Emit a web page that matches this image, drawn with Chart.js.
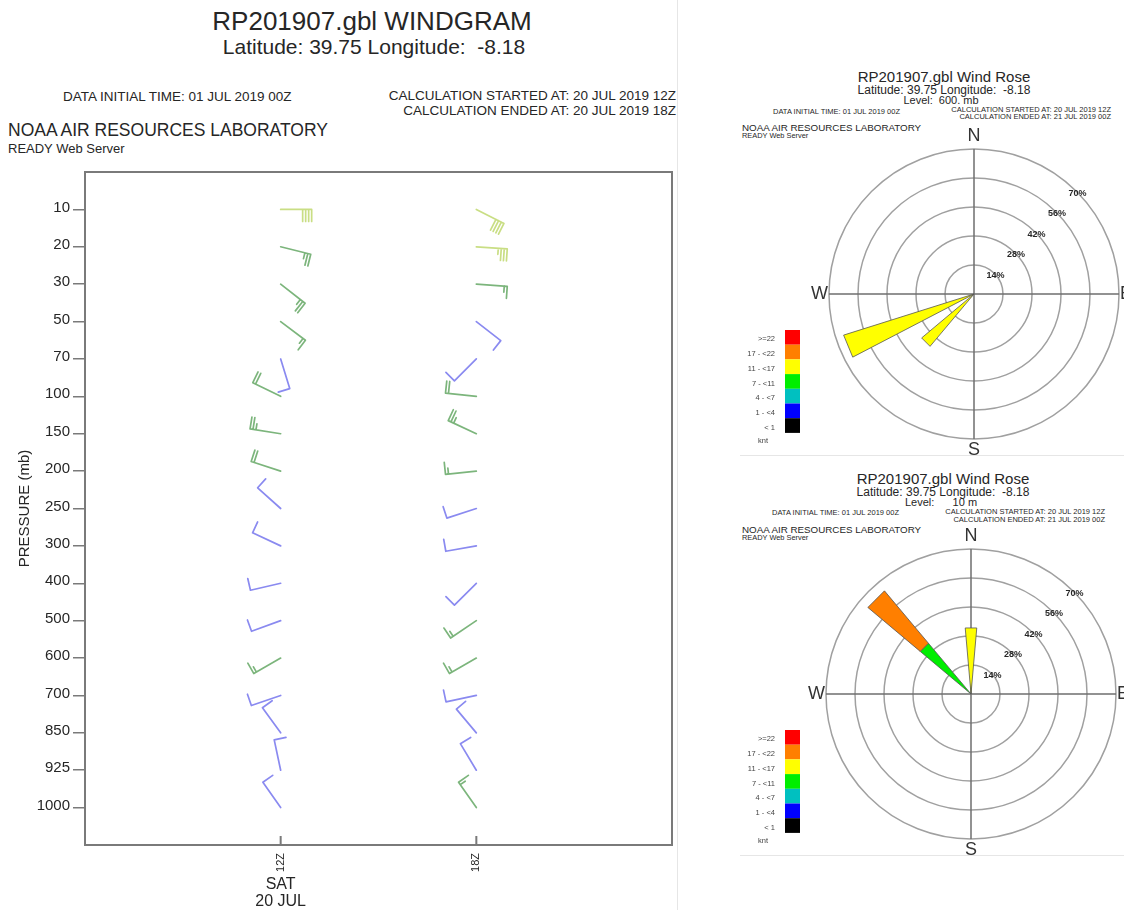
<!DOCTYPE html>
<html>
<head>
<meta charset="utf-8">
<script src="https://cdn.jsdelivr.net/npm/chart.js@4.4.1/dist/chart.umd.min.js"></script>
<style>
html, body { margin: 0; padding: 0; background: #fff; }
body { width: 1124px; height: 910px; position: relative; overflow: hidden; font-family: "Liberation Sans", Arial, sans-serif; color: #262626; }
.t { position: absolute; white-space: pre; line-height: 1; }
.c { text-align: center; }
.r { text-align: right; }
canvas { position: absolute; }
.rule { position: absolute; background: #e6e6e6; }
</style>
</head>
<body>

<!-- windgram header -->
<div class="t c" style="left:172px;width:400px;top:8px;font-size:26px;">RP201907.gbl WINDGRAM</div>
<div class="t c" style="left:174px;width:400px;top:36px;font-size:21px;">Latitude: 39.75 Longitude:  -8.18</div>
<div class="t" style="left:63px;top:90px;font-size:13.5px;">DATA INITIAL TIME: 01 JUL 2019 00Z</div>
<div class="t r" style="right:448px;top:89px;font-size:13.5px;">CALCULATION STARTED AT: 20 JUL 2019 12Z</div>
<div class="t r" style="right:448px;top:104px;font-size:13.5px;">CALCULATION ENDED AT: 20 JUL 2019 18Z</div>
<div class="t" style="left:8px;top:122px;font-size:17.5px;">NOAA AIR RESOURCES LABORATORY</div>
<div class="t" style="left:8px;top:142px;font-size:13px;">READY Web Server</div>

<!-- wind rose 600 mb header -->
<div class="t c" style="left:844px;width:200px;top:69px;font-size:15px;">RP201907.gbl Wind Rose</div>
<div class="t c" style="left:844px;width:200px;top:84px;font-size:12px;">Latitude: 39.75 Longitude:  -8.18</div>
<div class="t c" style="left:841px;width:200px;top:95px;font-size:11px;">Level:  600. mb</div>
<div class="t" style="left:773px;top:108px;font-size:7.5px;">DATA INITIAL TIME: 01 JUL 2019 00Z</div>
<div class="t r" style="right:13px;top:106px;font-size:7.5px;">CALCULATION STARTED AT: 20 JUL 2019 12Z</div>
<div class="t r" style="right:13px;top:113px;font-size:7.5px;">CALCULATION ENDED AT: 21 JUL 2019 00Z</div>
<div class="t" style="left:742px;top:123px;font-size:9.8px;">NOAA AIR RESOURCES LABORATORY</div>
<div class="t" style="left:742px;top:132px;font-size:7.4px;">READY Web Server</div>

<!-- wind rose 10 m header -->
<div class="t c" style="left:843px;width:200px;top:471px;font-size:15px;">RP201907.gbl Wind Rose</div>
<div class="t c" style="left:843px;width:200px;top:486px;font-size:12px;">Latitude: 39.75 Longitude:  -8.18</div>
<div class="t c" style="left:841px;width:200px;top:497px;font-size:11px;">Level:      10 m</div>
<div class="t" style="left:772px;top:509px;font-size:7.5px;">DATA INITIAL TIME: 01 JUL 2019 00Z</div>
<div class="t r" style="right:19px;top:508px;font-size:7.5px;">CALCULATION STARTED AT: 20 JUL 2019 12Z</div>
<div class="t r" style="right:19px;top:516px;font-size:7.5px;">CALCULATION ENDED AT: 21 JUL 2019 00Z</div>
<div class="t" style="left:742px;top:525px;font-size:9.8px;">NOAA AIR RESOURCES LABORATORY</div>
<div class="t" style="left:742px;top:534px;font-size:7.4px;">READY Web Server</div>

<div class="rule" style="left:677px;top:0;width:1px;height:910px;"></div>
<div class="rule" style="left:740px;top:455px;width:384px;height:1px;"></div>
<div class="rule" style="left:740px;top:855px;width:384px;height:1px;"></div>

<canvas id="windgram" width="690" height="760" style="left:0;top:150px;"></canvas>
<canvas id="rose600" width="415" height="400" style="left:735px;top:60px;"></canvas>
<canvas id="rose10" width="415" height="400" style="left:735px;top:460px;"></canvas>

<script>
// ── DATA ────────────────────────────────────────────────────────────────────────

const LEVELS = ['10', '20', '30', '50', '70', '100', '150', '200', '250', '300', '400', '500', '600', '700', '850', '925', '1000'];
const TIMES = [12, 18];            // hours UTC, 20 JUL 2019

// wind direction (deg, from) and speed (kt) per level, top to bottom
const DIR_12Z = [90, 104, 128, 127, 163, 296, 279, 288, 312, 295, 257, 250, 240, 251, 324, 348, 325];
const SPD_12Z = [40, 25, 25, 15, 10, 20, 25, 20, 10, 10, 10, 10, 15, 10, 10, 10, 10];
const DIR_18Z = [117, 94, 94, 128, 225, 276, 295, 264, 252, 260, 225, 236, 240, 258, 320, 329, 325];
const SPD_18Z = [40, 35, 15, 10, 10, 20, 25, 15, 10, 10, 10, 15, 15, 10, 10, 10, 15];

// wind rose: 16 sectors, percentage of time per speed class
const ROSE_DIRS = ['N', 'NNE', 'NE', 'ENE', 'E', 'ESE', 'SE', 'SSE', 'S', 'SSW', 'SW', 'WSW', 'W', 'WNW', 'NW', 'NNW'];
const RING_TICKS = [14, 28, 42, 56, 70];
const SPEED_CLASSES = ['>=22', '17 - <22', '11 - <17', '7 - <11', '4 - <7', '1 - <4', '< 1'];
const CLASS_COLORS = ['#ff0000', '#ff7f00', '#ffff00', '#00ee00', '#00c0c0', '#0000ff', '#000000'];

const R600_11_17 = [0, 0, 0, 0, 0, 0, 0, 0, 0, 0, 33, 66, 0, 0, 0, 0];
const R10_7_11   = [0, 0, 0, 0, 0, 0, 0, 0, 0, 0, 0, 0, 0, 0, 32, 0];
const R10_11_17  = [32, 0, 0, 0, 0, 0, 0, 0, 0, 0, 0, 0, 0, 0, 0, 0];
const R10_17_22  = [0, 0, 0, 0, 0, 0, 0, 0, 0, 0, 0, 0, 0, 0, 33, 0];

// ── WINDGRAM ────────────────────────────────────────────────────────────────────

const FONT = 'Liberation Sans';
const BARB_BLUE = '#8a8af0', BARB_GREEN = '#7cb57c', BARB_LIME = '#c9de84';

function barbColor(spd) {
  if (spd >= 30) return BARB_LIME;
  if (spd >= 15) return BARB_GREEN;
  return BARB_BLUE;
}

function drawBarb(ctx, x, y, dir, spd) {
  const a = dir * Math.PI / 180;
  const ux = Math.sin(a), uy = -Math.cos(a);   // toward where wind comes from
  const px = -uy, py = ux;                      // feathers on the clockwise side
  const L = 31, F = 12, gap = 3;
  const tx = x + ux * L, ty = y + uy * L;
  ctx.save();
  ctx.strokeStyle = barbColor(spd);
  ctx.lineWidth = 1.7;
  ctx.lineCap = 'round';
  ctx.beginPath();
  ctx.moveTo(x, y);
  ctx.lineTo(tx, ty);
  const full = Math.floor(spd / 10);
  const half = spd % 10 >= 5;
  let d = 0;
  for (let i = 0; i < full; i++) {
    const bx = tx - ux * d, by = ty - uy * d;
    ctx.moveTo(bx, by);
    ctx.lineTo(bx + px * F, by + py * F);
    d += gap;
  }
  if (half) {
    if (full === 0) d = gap;
    const bx = tx - ux * d, by = ty - uy * d;
    ctx.moveTo(bx, by);
    ctx.lineTo(bx + px * F / 2, by + py * F / 2);
  }
  ctx.stroke();
  ctx.restore();
}

const windgramPlugin = {
  id: 'windgram',
  afterDraw(chart) {
    const { ctx, chartArea: ca, scales: { x, y } } = chart;
    ctx.save();
    // frame
    ctx.strokeStyle = '#7a7a7a';
    ctx.lineWidth = 2;
    ctx.strokeRect(ca.left, ca.top, ca.right - ca.left, ca.bottom - ca.top);
    // inward time ticks
    ctx.beginPath();
    TIMES.forEach(t => {
      const px = x.getPixelForValue(t);
      ctx.moveTo(px, ca.bottom);
      ctx.lineTo(px, ca.bottom - 9);
    });
    ctx.stroke();
    // barbs
    const cols = [[DIR_12Z, SPD_12Z], [DIR_18Z, SPD_18Z]];
    cols.forEach(([dirs, spds], ti) => {
      const px = x.getPixelForValue(TIMES[ti]);
      LEVELS.forEach((_, li) => drawBarb(ctx, px, y.getPixelForValue(li), dirs[li], spds[li]));
    });
    // day label under first time
    ctx.fillStyle = '#262626';
    ctx.font = `16px "${FONT}"`;
    ctx.textAlign = 'center';
    ctx.textBaseline = 'middle';
    const dx = x.getPixelForValue(TIMES[0]);
    ctx.fillText('SAT', dx, ca.bottom + 40);
    ctx.fillText('20 JUL', dx, ca.bottom + 57);
    ctx.restore();
  }
};

new Chart(document.getElementById('windgram'), {
  type: 'scatter',
  data: { datasets: [] },
  options: {
    responsive: false,
    animation: false,
    layout: { padding: { top: 22, right: 18, left: 0, bottom: 0 } },
    plugins: { legend: { display: false }, tooltip: { enabled: false } },
    scales: {
      x: {
        type: 'linear', min: 6, max: 24,
        afterBuildTicks: s => { s.ticks = TIMES.map(v => ({ value: v })); },
        afterFit: s => { s.height = 65; },
        grid: { display: false, drawTicks: false },
        border: { display: false },
        ticks: {
          minRotation: 90, maxRotation: 90, padding: 8, autoSkip: false,
          color: '#262626', font: { family: FONT, size: 11 },
          callback: v => v + 'Z'
        }
      },
      y: {
        type: 'linear', min: -1, max: 17, reverse: true,
        afterBuildTicks: s => { s.ticks = LEVELS.map((_, i) => ({ value: i })); },
        afterFit: s => { s.width = 85; },
        grid: { display: true, drawOnChartArea: false, drawTicks: true, tickLength: 12, color: '#7a7a7a', lineWidth: 1.5 },
        border: { display: false },
        title: { display: true, text: 'PRESSURE (mb)', color: '#262626', font: { family: FONT, size: 15 }, padding: { top: 16, bottom: 0 } },
        ticks: {
          autoSkip: false, padding: 3, labelOffset: -2,
          color: '#262626', font: { family: FONT, size: 15 },
          callback: v => LEVELS[v]
        }
      }
    }
  },
  plugins: [windgramPlugin]
});

// ── WIND ROSES ──────────────────────────────────────────────────────────────────

function rosePlugin(classData) {
  return {
    id: 'rose',
    afterDraw(chart) {
      const s = chart.scales.r, ctx = chart.ctx;
      const R = s.getDistanceFromCenterForValue(s.max);
      const rad = d => d * Math.PI / 180;
      ctx.save();

      // petals, stacked from calm to strong
      ROSE_DIRS.forEach((name, i) => {
        const deg = i * 22.5;
        let acc = 0;
        for (let k = SPEED_CLASSES.length - 1; k >= 0; k--) {
          const arr = classData[k];
          const v = arr ? arr[i] : 0;
          if (!v) continue;
          const r0 = s.getDistanceFromCenterForValue(acc);
          const r1 = s.getDistanceFromCenterForValue(acc + v);
          const p = [
            s.getPointPosition(0, r0, rad(deg - 5)),
            s.getPointPosition(0, r1, rad(deg - 5)),
            s.getPointPosition(0, r1, rad(deg + 5)),
            s.getPointPosition(0, r0, rad(deg + 5))
          ];
          ctx.beginPath();
          ctx.moveTo(p[0].x, p[0].y);
          p.slice(1).forEach(q => ctx.lineTo(q.x, q.y));
          ctx.closePath();
          ctx.fillStyle = CLASS_COLORS[k];
          ctx.fill();
          ctx.strokeStyle = '#555';
          ctx.lineWidth = 0.8;
          ctx.stroke();
          acc += v;
        }
      });

      // ring percentages
      ctx.fillStyle = '#262626';
      ctx.font = `bold 9px "${FONT}"`;
      ctx.textAlign = 'center';
      ctx.textBaseline = 'middle';
      RING_TICKS.forEach(v => {
        const p = s.getPointPosition(0, s.getDistanceFromCenterForValue(v), Math.PI / 4);
        ctx.fillText(v + '%', p.x + 1, p.y + 2);
      });

      // compass letters
      ctx.font = `18px "${FONT}"`;
      ctx.fillStyle = '#333';
      const cx = s.xCenter, cy = s.yCenter;
      ctx.textAlign = 'center'; ctx.textBaseline = 'bottom';
      ctx.fillText('N', cx, cy - R - 4);
      ctx.textBaseline = 'top';
      ctx.fillText('S', cx, cy + R + 2);
      ctx.textBaseline = 'middle';
      ctx.textAlign = 'right';
      ctx.fillText('W', cx - R - 1, cy);
      ctx.textAlign = 'left';
      ctx.fillText('E', cx + R + 1, cy);

      // speed legend, fixed in the panel's left margin
      const bx = 50, by = cy + 36, bh = 14.7;
      ctx.font = `7.5px "${FONT}"`;
      ctx.textAlign = 'right';
      SPEED_CLASSES.forEach((label, k) => {
        ctx.fillStyle = CLASS_COLORS[k];
        ctx.fillRect(bx, by + k * bh, 15, bh);
        ctx.fillStyle = '#444';
        ctx.fillText(label, bx - 10, by + k * bh + bh / 2 + 2);
      });
      ctx.textAlign = 'center';
      ctx.fillText('knt', bx - 22, by + SPEED_CLASSES.length * bh + 8);
      ctx.restore();
    }
  };
}

function makeRose(id, classData, padLeft) {
  new Chart(document.getElementById(id), {
    type: 'radar',
    data: { labels: ['N', 'E', 'S', 'W'], datasets: [] },
    options: {
      responsive: false,
      animation: false,
      layout: { padding: { left: padLeft, top: 89, right: 125 - padLeft, bottom: 21 } },
      plugins: { legend: { display: false }, tooltip: { enabled: false } },
      scales: {
        r: {
          min: 0, max: 70,
          ticks: { stepSize: 14, display: false },
          grid: { circular: true, color: '#a0a0a0', lineWidth: 1.5 },
          angleLines: { color: '#6e6e6e', lineWidth: 1.5 },
          pointLabels: { display: false }
        }
      }
    },
    plugins: [rosePlugin(classData)]
  });
}

// classData indexed like SPEED_CLASSES
makeRose('rose600', [null, null, R600_11_17, null, null, null, null], 94);
makeRose('rose10', [null, R10_17_22, R10_11_17, R10_7_11, null, null, null], 91);
</script>
</body>
</html>
